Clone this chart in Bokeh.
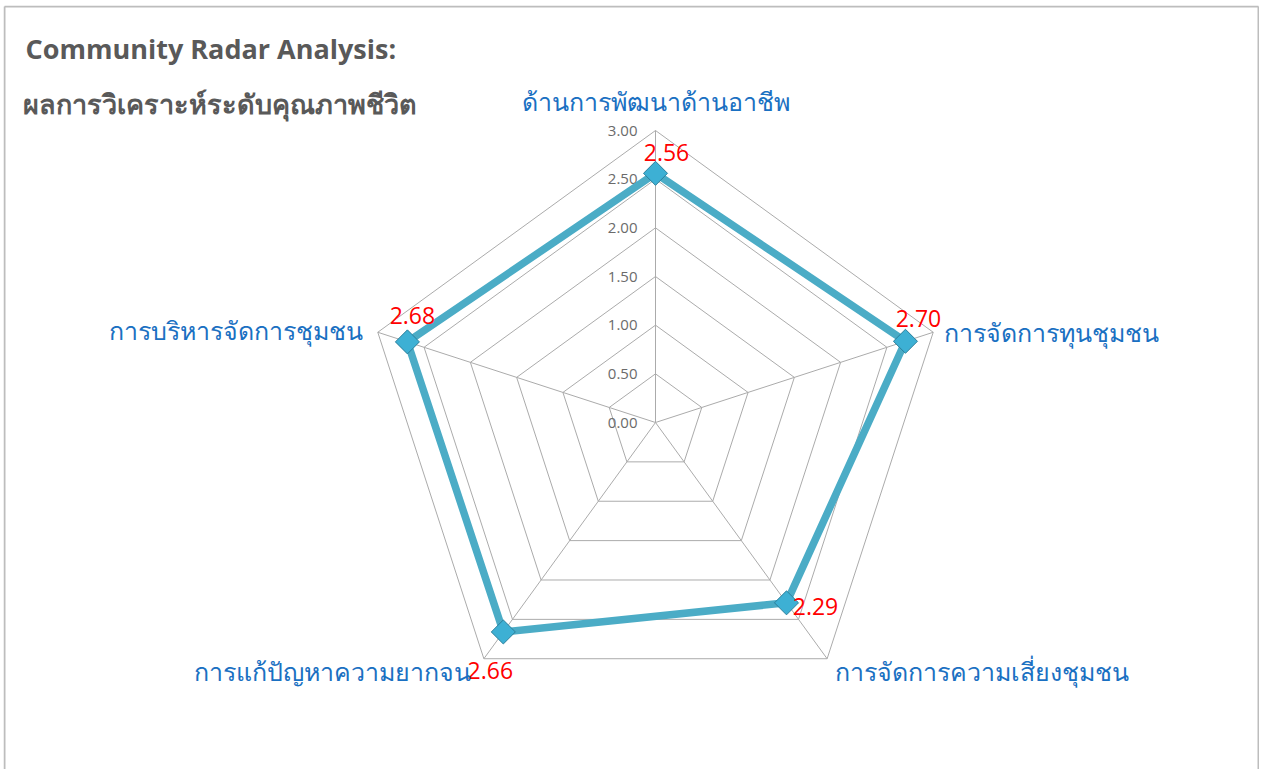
import numpy as np
from bokeh.plotting import figure
from bokeh.models import Range1d
from bokeh.core.properties import value
from bokeh.embed import file_html
from bokeh.resources import INLINE

# ---------------- data ----------------
categories = ["ด้านการพัฒนาด้านอาชีพ", "การจัดการทุนชุมชน", "การจัดการความเสี่ยงชุมชน",
              "การแก้ปัญหาความยากจน", "การบริหารจัดการชุมชน"]
scores = [2.56, 2.70, 2.29, 2.66, 2.68]
score_labels = ["2.56", "2.70", "2.29", "2.66", "2.68"]
tick_values = [0.0, 0.5, 1.0, 1.5, 2.0, 2.5, 3.0]
tick_labels = ["0.00", "0.50", "1.00", "1.50", "2.00", "2.50", "3.00"]
title_line1 = "Community Radar Analysis:"
title_line2 = "ผลการวิเคราะห์ระดับคุณภาพชีวิต"

# ---------------- layout constants (page pixels) ----------------
PAGE_X0, PAGE_Y0 = 3, 5          # figure top-left on page
W, H = 1256, 764
CX, CY = 655, 422                # radar centre on page
RMAX_PX = 292                    # pixels for value 3.0
S = RMAX_PX / 3.0                # pixels per unit

def dx(px):  # page x -> data x
    return (px - CX) / S

def dy(py):  # page y -> data y
    return (CY - py) / S

p = figure(width=W, height=H, output_backend="svg", toolbar_location=None,
           x_range=Range1d(dx(PAGE_X0), dx(PAGE_X0 + W)),
           y_range=Range1d(dy(PAGE_Y0 + H), dy(PAGE_Y0)),
           x_axis_location=None, y_axis_location=None,
           min_border=0, margin=(PAGE_Y0, 0, 0, PAGE_X0))
p.outline_line_color = None
p.grid.visible = False
p.background_fill_color = "white"
p.border_fill_color = "white"

n = len(categories)
theta = np.deg2rad(90 - 72 * np.arange(n))
cos_t, sin_t = np.cos(theta), np.sin(theta)

# ---------------- frame border ----------------
p.multi_line(xs=[[dx(4), dx(1258)], [dx(4), dx(4)], [dx(1258), dx(1258)]],
             ys=[[dy(6), dy(6)], [dy(6), dy(775)], [dy(6), dy(775)]],
             line_color="#BDBDBD", line_width=2)

# ---------------- grid ----------------
grid_xs, grid_ys = [], []
for t in tick_values[1:]:
    grid_xs.append(list(t * cos_t) + [t * cos_t[0]])
    grid_ys.append(list(t * sin_t) + [t * sin_t[0]])
p.multi_line(xs=grid_xs, ys=grid_ys, line_color="#ABABAB", line_width=1)
rmax = tick_values[-1]
p.segment(x0=np.zeros(n), y0=np.zeros(n), x1=rmax * cos_t, y1=rmax * sin_t,
          line_color="#ABABAB", line_width=1)

# tick labels
p.text(x=np.zeros(len(tick_values)), y=tick_values, text=tick_labels,
       x_offset=-18, text_align="right", text_baseline="middle",
       text_font=value("Open Sans"), text_font_size="15px", text_color="#6B6B6B")

# ---------------- series ----------------
sx = np.array(scores) * cos_t
sy = np.array(scores) * sin_t
p.line(x=list(sx) + [sx[0]], y=list(sy) + [sy[0]], line_color="#4BACC6", line_width=7.5,
       line_join="round")
p.scatter(x=sx, y=sy, marker="square", angle=np.pi / 4, size=17,
          fill_color="#3DB0D4", line_color="#2A7F9B", line_width=1)

# data labels (offsets in screen px)
lab_dx = [11, 13, 29, -13, 5]
lab_dy = [-21, -23, 4, 39, -26]
p.text(x=sx, y=sy, text=score_labels, x_offset=lab_dx, y_offset=lab_dy,
       text_align="center", text_baseline="middle",
       text_font=value("Open Sans"), text_font_size="23px", text_color="#FF0000")

# category labels
cat_dx = [0, 11, 8, -13, -15]
cat_dy = [-30, 0, 12, 12, -2]
cat_align = ["center", "left", "left", "right", "right"]
p.text(x=rmax * cos_t, y=rmax * sin_t, text=categories, x_offset=cat_dx, y_offset=cat_dy,
       text_align=cat_align, text_baseline="middle",
       text_font=value("Noto Sans"), text_font_size="25px", text_color="#1A70C2")

# ---------------- title ----------------
p.text(x=[dx(25)], y=[dy(48)], text=[title_line1], text_align="left", text_baseline="middle",
       text_font=value("Open Sans"), text_font_style="bold", text_font_size="27px",
       text_color="#595959")
p.text(x=[dx(22)], y=[dy(103)], text=[title_line2], text_align="left", text_baseline="middle",
       text_font=value("Noto Sans"), text_font_style="bold", text_font_size="27px",
       text_color="#595959")

open("out.html", "w").write(file_html(p, INLINE))
